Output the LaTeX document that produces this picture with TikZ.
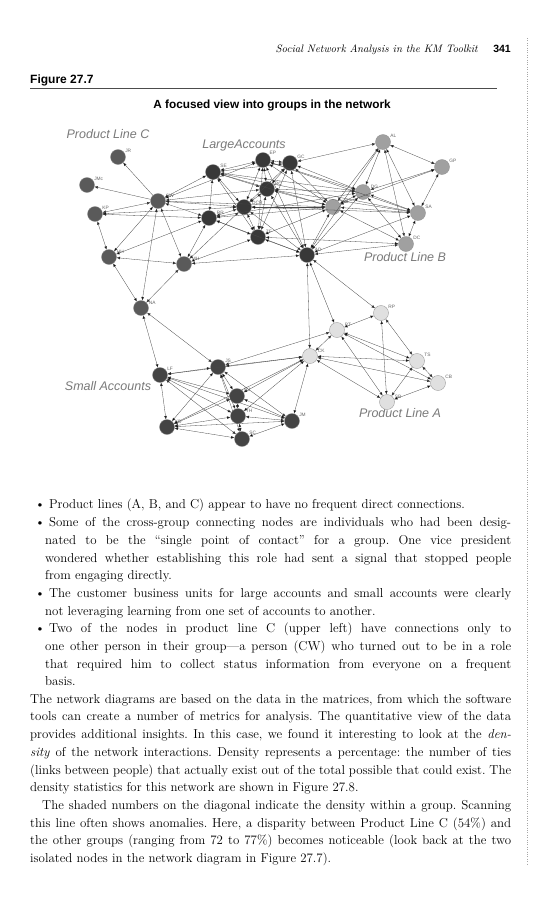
\documentclass[tikz,border=0pt]{standalone}
\usepackage{fontspec}
\usepackage{xcolor}
\newfontfamily\labelsans{Liberation Sans}
\newfontfamily\headsans{Liberation Sans}
\usetikzlibrary{arrows.meta}

\definecolor{plcgray}{HTML}{5A5A5A}
\definecolor{lagray}{HTML}{383838}
\definecolor{plbgray}{HTML}{A0A0A0}
\definecolor{plagray}{HTML}{E0E0E0}
\definecolor{sagray}{HTML}{444444}
\definecolor{grouptext}{HTML}{7A7A7A}

\newcommand{\bodyfont}{\fontsize{12.9}{17.7}\selectfont\setlength{\baselineskip}{17.7pt}\frenchspacing}

\begin{document}
\begin{tikzpicture}[
    x=1pt, y=-1pt,
    person/.style={circle, draw=black!45, line width=0.3pt, minimum size=15pt, inner sep=0pt},
    plc/.style={person, fill=plcgray},
    large/.style={person, fill=lagray},
    plb/.style={person, fill=plbgray},
    pla/.style={person, fill=plagray},
    small/.style={person, fill=sagray},
    tag/.style={font=\labelsans\fontsize{4.8}{5}\selectfont, text=black!60, inner sep=0.5pt},
    group/.style={font=\labelsans\itshape\fontsize{12.5}{14}\selectfont, text=grouptext},
    link/.style={<->, >={Latex[length=3.4pt,width=2.8pt]}, draw=black!72, line width=0.3pt},
    oneway/.style={link, -{Latex[length=3.4pt,width=2.8pt]}},
    body/.style={anchor=north west, inner sep=0pt, align=justify}
]
    \fill[white] (0,0) rectangle (552,900);
    \useasboundingbox (0,0) rectangle (552,900);

    % Running head
    \node[anchor=base east, inner sep=0pt, font=\itshape\fontsize{10.8}{13}\selectfont] (runhead) at (478,52) {Social Network Analysis in the KM Toolkit};
    \node[anchor=base east, inner sep=0pt, font=\headsans\bfseries\fontsize{10.5}{12}\selectfont] (pageno) at (511,52) {341};
    \draw[dotted, black!35] (527,38) -- (527,865);

    % Figure title
    \node[anchor=base west, inner sep=0pt, font=\headsans\bfseries\fontsize{12}{14}\selectfont] (fignum) at (30,83) {Figure 27.7};
    \draw[black!70, line width=0.6pt] (30,88) -- (497,88);
    \node[anchor=base, inner sep=0pt, font=\headsans\bfseries\fontsize{11.8}{14}\selectfont] (figcap) at (272,108) {A focused view into groups in the network};

    % Group names
    \node[group] (nameC) at (108,134) {Product Line C};
    \node[group] (nameLA) at (244,145) {LargeAccounts};
    \node[group] (nameB) at (405,257) {Product Line B};
    \node[group] (nameSA) at (108,386) {Small Accounts};
    \node[group] (nameA) at (400,413) {Product Line A};

    % Product Line C
    \node[plc, label={[tag]30:JR}] (jr) at (118,157) {};
    \node[plc, label={[tag]30:JMc}] (jmc) at (87,185) {};
    \node[plc, label={[tag]30:KP}] (kp) at (95,214) {};
    \node[plc, label={[tag]20:CW}] (cw) at (158,201) {};
    \node[plc, label={[tag]20:HH}] (hh) at (109,257) {};
    \node[plc, label={[tag]20:MH}] (mh) at (184,264) {};
    \node[plc, label={[tag]20:NA}] (na) at (141,308) {};

    % Large accounts
    \node[large, label={[tag]30:SE}] (se) at (213,172) {};
    \node[large, label={[tag]40:EP}] (ep) at (263,160) {};
    \node[large, label={[tag]30:GC}] (gc) at (290,163) {};
    \node[large, label={[tag]20:RC}] (rc) at (267,189) {};
    \node[large, label={[tag]10:DCR}] (dcr) at (244,207) {};
    \node[large, label={[tag]20:RR}] (rr) at (209,218) {};
    \node[large, label={[tag]20:ZF}] (zf) at (258,237) {};
    \node[large, label={[tag]20:AD}] (ad) at (307,255) {};

    % Product Line B
    \node[plb, label={[tag]30:AL}] (al) at (383,142) {};
    \node[plb, label={[tag]30:GP}] (gp) at (442,167) {};
    \node[plb, label={[tag]20:DG}] (dg) at (363,192) {};
    \node[plb, label={[tag]20:WB}] (wb) at (333,207) {};
    \node[plb, label={[tag]30:SA}] (sa) at (418,213) {};
    \node[plb, label={[tag]30:DC}] (dc) at (406,244) {};

    % Small accounts
    \node[small, label={[tag]30:LF}] (lf) at (160,375) {};
    \node[small, label={[tag]30:JS}] (js) at (218,367) {};
    \node[small, label={[tag]30:RJ}] (rj) at (237,396) {};
    \node[small, label={[tag]20:TH}] (th) at (238,416) {};
    \node[small, label={[tag]20:KD}] (kd) at (167,427) {};
    \node[small, label={[tag]30:SC}] (sc) at (242,439) {};
    \node[small, label={[tag]30:JM}] (jm) at (292,421) {};

    % Product Line A
    \node[pla, label={[tag]30:RP}] (rp) at (381,313) {};
    \node[pla, label={[tag]20:PT}] (pt) at (337,330) {};
    \node[pla, label={[tag]20:CK}] (ck) at (310,356) {};
    \node[pla, label={[tag]30:TS}] (ts) at (417,361) {};
    \node[pla, label={[tag]30:CB}] (cb) at (438,383) {};
    \node[pla, label={[tag]20:SB}] (sb) at (387,402) {};

    % Ties
    \draw[oneway] (cw) edge (jr) edge (jmc);
    \draw[link] (cw) edge (kp) edge (hh) edge (mh) edge (rr) edge (se) edge (ep) edge (dcr) edge (rc) edge (wb) edge (na);
    \draw[link] (kp) edge (hh) edge (rr) edge (dcr);
    \draw[link] (hh) edge (mh) edge (rr) edge (na);
    \draw[link] (mh) edge (rr) edge (zf) edge (na) edge (ad) edge (dcr);
    \draw[link] (se) edge (ep) edge (gc) edge (rc) edge (dcr) edge (rr) edge (zf) edge (wb) edge (dg) edge (sa);
    \draw[link] (ep) edge (gc) edge (rc) edge (dcr) edge (zf) edge (ad) edge (wb) edge (dg) edge (sa);
    \draw[link] (gc) edge (rc) edge (dcr) edge (zf) edge (ad) edge (al) edge (dg) edge (wb);
    \draw[link] (rc) edge (dcr) edge (zf) edge (ad) edge (wb) edge (dg) edge (sa);
    \draw[link] (dcr) edge (rr) edge (zf) edge (ad) edge (wb) edge (sa);
    \draw[link] (rr) edge (zf) edge (wb) edge (ad) edge (dg);
    \draw[link] (zf) edge (ad) edge (wb) edge (dc);
    \draw[link] (ad) edge (wb) edge (dg) edge (al) edge (sa) edge (dc) edge (ck) edge (pt) edge (rp);
    \draw[link] (al) edge (gp) edge (dg) edge (wb) edge (sa) edge (dc);
    \draw[link] (gp) edge (dg) edge (wb) edge (sa);
    \draw[link] (dg) edge (wb) edge (sa) edge (dc);
    \draw[link] (wb) edge (sa) edge (dc);
    \draw[link] (sa) edge (dc);
    \draw[link] (na) edge (lf) edge (js);
    \draw[link] (lf) edge (js) edge (rj) edge (th) edge (sc) edge (kd) edge (jm) edge (ck);
    \draw[link] (js) edge (rj) edge (th) edge (kd) edge (sc) edge (ck) edge (pt) edge (jm);
    \draw[link] (rj) edge (th) edge (kd) edge (jm);
    \draw[link] (th) edge (sc) edge (kd) edge (jm);
    \draw[link] (kd) edge (sc) edge (jm);
    \draw[link] (jm) edge (sc) edge (ck);
    \draw[link] (ck) edge (rj) edge (th) edge (kd) edge (pt) edge (ts) edge (cb) edge (sb);
    \draw[link] (pt) edge (rp) edge (ts) edge (cb) edge (sb);
    \draw[link] (rp) edge (ts) edge (sb);
    \draw[link] (ts) edge (cb) edge (sb);
    \draw[link] (sb) edge (cb);

    % Text below the figure
    \node[body, text width=481pt] (bullets) at (30,491) {\bodyfont
      \begin{list}{\textbullet}{\setlength{\leftmargin}{15pt}\setlength{\labelwidth}{6pt}\setlength{\labelsep}{4pt}%
        \setlength{\itemsep}{0pt}\setlength{\parsep}{0pt}\setlength{\topsep}{0pt}\setlength{\partopsep}{0pt}}
      \item Product lines (A, B, and C) appear to have no frequent direct connections.
      \item Some of the cross-group connecting nodes are individuals who had been desig-\linebreak
        nated to be the ``single point of contact'' for a group. One vice president\linebreak
        wondered whether establishing this role had sent a signal that stopped people\linebreak
        from engaging directly.
      \item The customer business units for large accounts and small accounts were clearly\linebreak
        not leveraging learning from one set of accounts to another.
      \item Two of the nodes in product line C (upper left) have connections only to\linebreak
        one other person in their group---a person (CW) who turned out to be in a role\linebreak
        that required him to collect status information from everyone on a frequent\linebreak
        basis.
      \end{list}\par};
    \node[body, text width=481pt] (para) at (30,694) {\bodyfont
      The network diagrams are based on the data in the matrices, from which the software\linebreak
      tools can create a number of metrics for analysis. The quantitative view of the data\linebreak
      provides additional insights. In this case, we found it interesting to look at the \emph{den-}\linebreak
      \emph{sity} of the network interactions. Density represents a percentage: the number of ties\linebreak
      (links between people) that actually exist out of the total possible that could exist. The\linebreak
      density statistics for this network are shown in Figure 27.8.\par
      \hspace*{12pt}The shaded numbers on the diagonal indicate the density within a group. Scanning\linebreak
      this line often shows anomalies. Here, a disparity between Product Line C (54\%) and\linebreak
      the other groups (ranging from 72 to 77\%) becomes noticeable (look back at the two\linebreak
      isolated nodes in the network diagram in Figure 27.7).\par};
\end{tikzpicture}
\end{document}
